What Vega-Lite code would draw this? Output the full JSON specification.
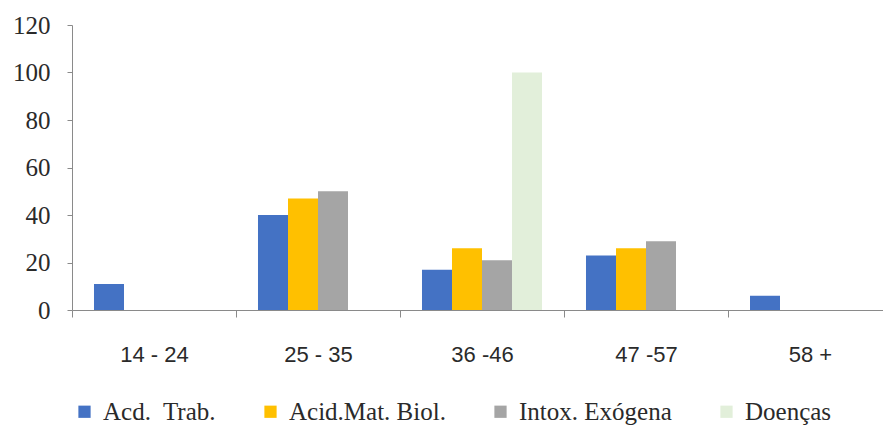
{
  "$schema": "https://vega.github.io/schema/vega-lite/v6.json",
  "autosize": "none",
  "padding": {"left": 72, "top": 25, "right": 0, "bottom": 118},
  "width": 820,
  "height": 285,
  "background": "white",
  "data": {
    "values": [
      {"faixa": "14 - 24", "serie": "Acd.\u00a0 Trab.", "valor": 11},
      {"faixa": "25 - 35", "serie": "Acd.\u00a0 Trab.", "valor": 40},
      {"faixa": "25 - 35", "serie": "Acid.Mat. Biol.", "valor": 47},
      {"faixa": "25 - 35", "serie": "Intox. Exógena", "valor": 50},
      {"faixa": "36 -46", "serie": "Acd.\u00a0 Trab.", "valor": 17},
      {"faixa": "36 -46", "serie": "Acid.Mat. Biol.", "valor": 26},
      {"faixa": "36 -46", "serie": "Intox. Exógena", "valor": 21},
      {"faixa": "36 -46", "serie": "Doenças", "valor": 100},
      {"faixa": "47 -57", "serie": "Acd.\u00a0 Trab.", "valor": 23},
      {"faixa": "47 -57", "serie": "Acid.Mat. Biol.", "valor": 26},
      {"faixa": "47 -57", "serie": "Intox. Exógena", "valor": 29},
      {"faixa": "58 +", "serie": "Acd.\u00a0 Trab.", "valor": 6}
    ]
  },
  "mark": {"type": "bar"},
  "encoding": {
    "x": {
      "field": "faixa",
      "type": "nominal",
      "sort": ["14 - 24", "25 - 35", "36 -46", "47 -57", "58 +"],
      "scale": {"paddingInner": 0, "paddingOuter": 0},
      "axis": {
        "title": null,
        "labelAngle": 0,
        "labelFont": "Liberation Sans",
        "labelFontSize": 22,
        "labelColor": "#2a2a2a",
        "labelPadding": 27,
        "tickBand": "extent",
        "tickSize": 7,
        "tickColor": "#8a8a8a",
        "domainColor": "#8a8a8a",
        "grid": false
      }
    },
    "xOffset": {
      "field": "serie",
      "type": "nominal",
      "sort": ["Acd.\u00a0 Trab.", "Acid.Mat. Biol.", "Intox. Exógena", "Doenças"],
      "scale": {"paddingInner": 0, "paddingOuter": 0.733}
    },
    "y": {
      "field": "valor",
      "type": "quantitative",
      "scale": {"domain": [0, 120]},
      "axis": {
        "title": null,
        "values": [0, 20, 40, 60, 80, 100, 120],
        "grid": false,
        "labelFont": "Liberation Serif",
        "labelFontSize": 25,
        "labelColor": "#2a2a2a",
        "labelPadding": 17,
        "tickSize": 5,
        "tickColor": "#8a8a8a",
        "domainColor": "#8a8a8a"
      }
    },
    "color": {
      "field": "serie",
      "type": "nominal",
      "scale": {
        "domain": ["Acd.\u00a0 Trab.", "Acid.Mat. Biol.", "Intox. Exógena", "Doenças"],
        "range": ["#4472C4", "#FFC000", "#A5A5A5", "#E2EFDA"]
      },
      "legend": {
        "title": null,
        "orient": "bottom",
        "direction": "horizontal",
        "symbolType": "square",
        "symbolSize": 150,
        "symbolStrokeWidth": 0,
        "labelFont": "Liberation Serif",
        "labelFontSize": 25,
        "labelColor": "#2a2a2a",
        "labelOffset": 6,
        "columnPadding": 42,
        "offset": 34
      }
    }
  },
  "config": {"view": {"stroke": null}}
}
